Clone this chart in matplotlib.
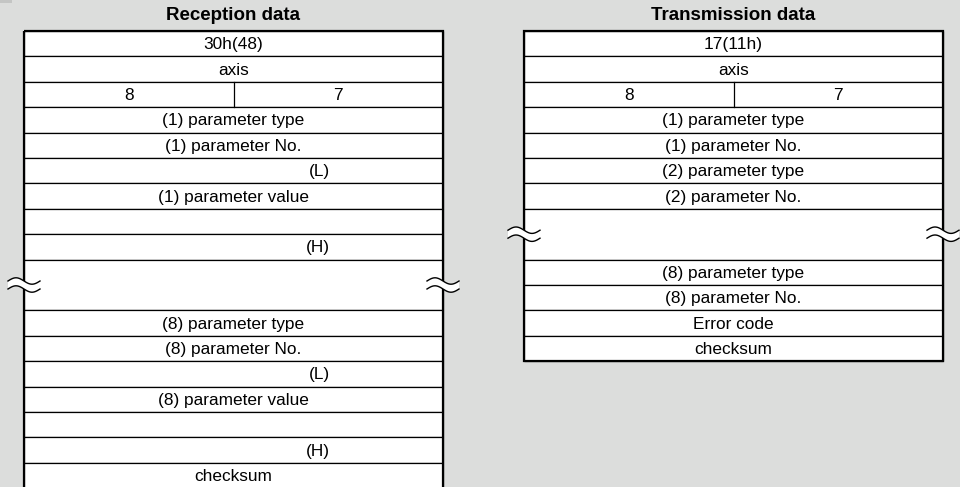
import numpy as np
import matplotlib.pyplot as plt
from matplotlib.patches import Rectangle, Polygon

plt.rcParams['font.family'] = ['Liberation Sans', 'DejaVu Sans']

# Row labels; None marks the omitted (wavy break) section, "8|7" a split row
reception_title = "Reception data"
reception_rows = ["30h(48)", "axis", "8|7", "(1) parameter type", "(1) parameter No.",
                  "(L)", "(1) parameter value", "", "(H)", None,
                  "(8) parameter type", "(8) parameter No.", "(L)", "(8) parameter value",
                  "", "(H)", "checksum"]

transmission_title = "Transmission data"
transmission_rows = ["17(11h)", "axis", "8|7", "(1) parameter type", "(1) parameter No.",
                     "(2) parameter type", "(2) parameter No.", None,
                     "(8) parameter type", "(8) parameter No.", "Error code", "checksum"]

W, H = 960, 487
BG = '#dcdddc'
ROW_H = 25.4
TOP = 31
FS = 12.4

fig = plt.figure(figsize=(9.6, 4.87), dpi=100, facecolor=BG)
ax = fig.add_axes([0, 0, 1, 1])
ax.set_xlim(0, W)
ax.set_ylim(H, 0)
ax.axis('off')

ax.add_patch(Rectangle((0, 0), 12, 3, facecolor='#c4c5c4', edgecolor='none'))


def wavy(xc, yc, half=16, gap=8, amp=3.2):
    x = np.linspace(xc - half, xc + half, 60)
    t = (x - x[0]) / (2 * half)
    y1 = yc - gap / 2 - amp * np.sin(2 * np.pi * t)
    y2 = y1 + gap
    pts = np.concatenate([np.column_stack([x, y1]), np.column_stack([x[::-1], y2[::-1]])])
    ax.add_patch(Polygon(pts, closed=True, facecolor='white', edgecolor='none', zorder=5))
    ax.plot(x, y1, color='black', lw=1.0, zorder=6)
    ax.plot(x, y2, color='black', lw=1.0, zorder=6)


def draw_table(x0, x1, title, rows):
    xm = (x0 + x1) / 2
    ax.text(xm, 16, title, ha='center', va='center', fontsize=13.5, fontweight='bold')
    y = TOP
    breaks = []
    for lab in rows:
        h = 2 * ROW_H if lab is None else ROW_H
        ax.add_patch(Rectangle((x0, y), x1 - x0, h, facecolor='white',
                               edgecolor='black', lw=0.9, zorder=1))
        yc = y + h / 2 + 1
        if lab is None:
            breaks.append(y + h / 2)
        elif lab == "8|7":
            ax.plot([xm, xm], [y, y + h], color='black', lw=0.9, zorder=2)
            ax.text((x0 + xm) / 2, yc, "8", ha='center', va='center', fontsize=FS)
            ax.text((xm + x1) / 2, yc, "7", ha='center', va='center', fontsize=FS)
        elif lab in ("(L)", "(H)"):
            ax.text((xm + x1) / 2 - 8, yc, lab, ha='right', va='center', fontsize=FS)
        elif lab:
            ax.text(xm, yc, lab, ha='center', va='center', fontsize=FS)
        y += h
    ax.add_patch(Rectangle((x0, TOP), x1 - x0, y - TOP, facecolor='none',
                           edgecolor='black', lw=1.6, zorder=4))
    for yb in breaks:
        wavy(x0, yb)
        wavy(x1, yb)


draw_table(24, 443, reception_title, reception_rows)
draw_table(524, 943, transmission_title, transmission_rows)

fig.savefig('out.png', dpi=100, facecolor=BG)
